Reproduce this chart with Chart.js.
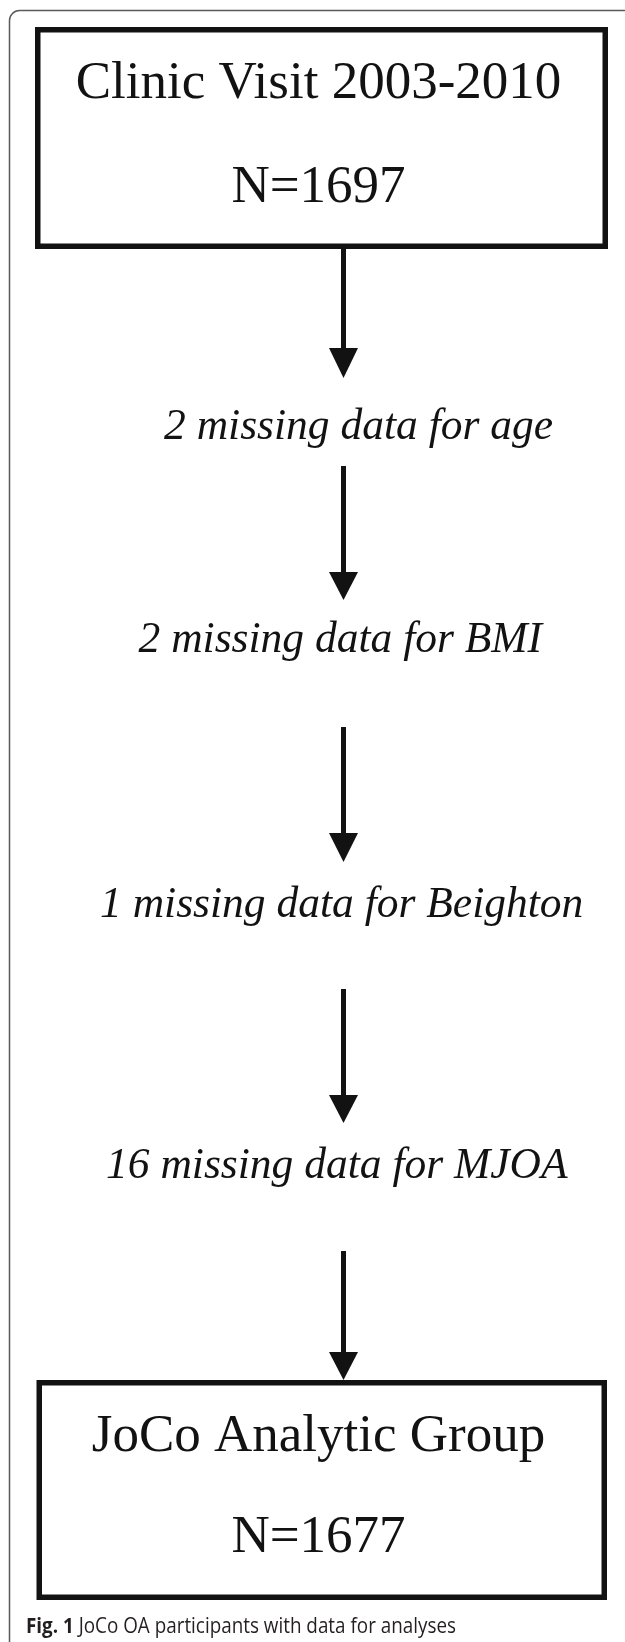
<!DOCTYPE html>
<html>
<head>
<meta charset="utf-8">
<script src="https://cdn.jsdelivr.net/npm/chart.js@4.4.1/dist/chart.umd.min.js"></script>
<style>
html,body{margin:0;padding:0;background:#fff;}
canvas{display:block;}
</style>
</head>
<body>
<canvas id="c" width="625" height="1642"></canvas>
<script>
// ---- data ----
const boxTitles = ['Clinic Visit 2003-2010', 'JoCo Analytic Group'];
const boxCounts = [1697, 1677];
const missingCounts = [2, 2, 1, 16];
const missingVariables = ['age', 'BMI', 'Beighton', 'MJOA'];
const captionLabel = 'Fig. 1';
const captionText = ' JoCo OA participants with data for analyses';

// ---- layout (pixel-space coordinates of the flow diagram) ----
const layout = {
  boxes: [
    {x0: 35, x1: 608, y0: 27, y1: 249, titleY: 98, countY: 202},
    {x0: 36.5, x1: 607, y0: 1380, y1: 1600, titleY: 1451, countY: 1552}
  ],
  textCenterX: 318.5,
  missing: [
    {x: 164, y: 439}, {x: 138.5, y: 652}, {x: 100, y: 917}, {x: 106, y: 1178}
  ],
  arrowX: 343.5,
  arrows: [
    {y0: 249, head: 348, tip: 378},
    {y0: 466, head: 572, tip: 600},
    {y0: 727, head: 833, tip: 862},
    {y0: 989, head: 1095, tip: 1123},
    {y0: 1251, head: 1352, tip: 1380}
  ],
  caption: {x: 26, y: 1633, width: 430}
};

const INK = '#121212';

const shaftDatasets = layout.arrows.map(a => ({
  type: 'line',
  data: [{x: layout.arrowX, y: a.y0}, {x: layout.arrowX, y: a.head + 2}],
  borderColor: INK,
  borderWidth: 5,
  pointRadius: 0,
  borderCapStyle: 'butt',
  clip: false
}));

const flowPlugin = {
  id: 'flow',
  beforeDraw(chart) {
    const c = chart.ctx;
    c.save();
    c.fillStyle = '#fff';
    c.fillRect(0, 0, chart.width, chart.height);
    c.restore();
  },
  afterDatasetsDraw(chart) {
    const c = chart.ctx;
    const sx = chart.scales.x, sy = chart.scales.y;
    const X = v => sx.getPixelForValue(v);
    const Y = v => sy.getPixelForValue(v);
    c.save();

    // outer figure frame
    c.strokeStyle = '#5a5a5a';
    c.lineWidth = 1.5;
    c.beginPath();
    const fx = X(9.5), fy = Y(10.5), r = 10;
    c.moveTo(fx, Y(1700));
    c.lineTo(fx, fy + r);
    c.arcTo(fx, fy, fx + r, fy, r);
    c.lineTo(X(700), fy);
    c.stroke();

    // boxes
    c.strokeStyle = INK;
    c.lineWidth = 5.5;
    c.lineJoin = 'miter';
    layout.boxes.forEach((b, i) => {
      const h = 2.75;
      c.strokeRect(X(b.x0) + h, Y(b.y0) + h, X(b.x1) - X(b.x0) - 2 * h, Y(b.y1) - Y(b.y0) - 2 * h);
      c.fillStyle = INK;
      c.textAlign = 'center';
      c.textBaseline = 'alphabetic';
      c.font = '53px "Liberation Serif", "Times New Roman", serif';
      c.fillText(boxTitles[i], X(layout.textCenterX), Y(b.titleY));
      c.fillText('N=' + boxCounts[i], X(layout.textCenterX), Y(b.countY));
    });

    // arrow heads
    c.fillStyle = INK;
    layout.arrows.forEach(a => {
      const ax = X(layout.arrowX);
      c.beginPath();
      c.moveTo(ax - 14.5, Y(a.head));
      c.lineTo(ax + 14.5, Y(a.head));
      c.lineTo(ax, Y(a.tip));
      c.closePath();
      c.fill();
    });

    // exclusion texts
    c.textAlign = 'left';
    c.font = 'italic 43.5px "Liberation Serif", "Times New Roman", serif';
    missingCounts.forEach((n, i) => {
      const p = layout.missing[i];
      c.fillText(n + ' missing data for ' + missingVariables[i], X(p.x), Y(p.y));
    });

    // caption
    const cap = layout.caption;
    c.fillStyle = '#231f20';
    const boldFont = 'bold 21px "Open Sans", "Noto Sans", sans-serif';
    const regFont = '21px "Open Sans", "Noto Sans", sans-serif';
    c.font = boldFont;
    const w1 = c.measureText(captionLabel).width;
    c.font = regFont;
    const w2 = c.measureText(captionText).width;
    const k = cap.width / (w1 + w2);
    c.translate(X(cap.x), Y(cap.y));
    c.scale(k, 1);
    c.font = boldFont;
    c.fillText(captionLabel, 0, 0);
    c.font = regFont;
    c.fillText(captionText, w1, 0);
    c.restore();
  }
};

new Chart(document.getElementById('c').getContext('2d'), {
  type: 'scatter',
  data: {datasets: shaftDatasets},
  options: {
    responsive: false,
    devicePixelRatio: 1,
    animation: false,
    layout: {padding: 0},
    plugins: {legend: {display: false}, tooltip: {enabled: false}, title: {display: false}},
    scales: {
      x: {type: 'linear', display: false, min: 0, max: 625},
      y: {type: 'linear', display: false, min: 0, max: 1642, reverse: true}
    }
  },
  plugins: [flowPlugin]
});
</script>
</body>
</html>
